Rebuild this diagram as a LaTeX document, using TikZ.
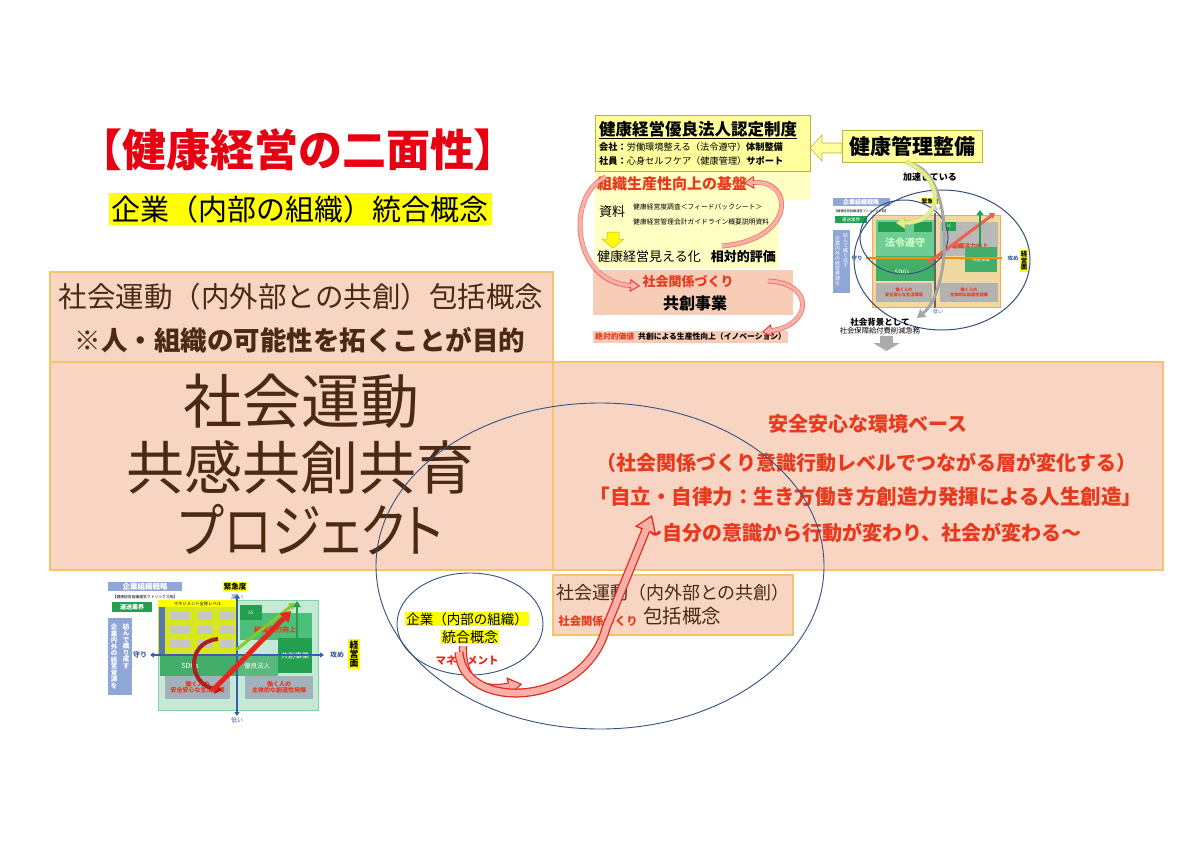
\documentclass[tikz,border=0pt]{standalone}
\usepackage{fontspec}
\usepackage{graphicx}
\setmainfont{Noto Sans CJK JP}
\newfontfamily\jpp[RawFeature=+palt]{Noto Sans CJK JP}
\usetikzlibrary{arrows.meta,shapes.geometric}
\definecolor{peach}{HTML}{F8D5C2}
\definecolor{peach2}{HTML}{F7CDB7}
\definecolor{peachedge}{HTML}{F3C46A}
\definecolor{brownt}{HTML}{4A2A12}
\definecolor{redt}{HTML}{E8381E}
\definecolor{titlered}{HTML}{E60012}
\definecolor{ellblue}{HTML}{34507E}
\definecolor{hiyel}{HTML}{FFFF00}
\definecolor{paleyel}{HTML}{FFFF9E}
\definecolor{paleyel2}{HTML}{FFFFC4}
\definecolor{olive}{HTML}{BFB23A}
\definecolor{pinkf}{HTML}{F8B0A8}
\definecolor{arrred}{HTML}{E8261C}
\definecolor{mblue}{HTML}{8EA6D8}
\definecolor{mgreen}{HTML}{22A050}
\definecolor{lgreen}{HTML}{C4EAD6}
\definecolor{mgreen2}{HTML}{4CBF7A}
\definecolor{mgray}{HTML}{A2B2BC}
\definecolor{axblue}{HTML}{3A5FA8}
\definecolor{tanf}{HTML}{EFD9A0}
\definecolor{darkred}{HTML}{A8201C}
\definecolor{ygreen}{HTML}{E4F08A}
\newcommand\fsz[1]{\fontsize{#1}{#1}\selectfont}
\tikzset{
  t/.style={inner sep=0pt},
  box/.style={draw=peachedge, line width=1.3pt, fill=peach},
  ell/.style={draw=ellblue, line width=0.9pt},
  hl/.style={fill=hiyel, inner xsep=3pt, inner ysep=2pt},
  pkout/.style={draw=arrred, line width=#1},
  pkin/.style={draw=pinkf, line width=#1},
}
\begin{document}
\begin{tikzpicture}[x=1pt,y=-1pt]
\fill[white] (0,0) rectangle (1200,849);
\useasboundingbox (0,0) rectangle (1200,849);

% ---------- title ----------
\node[t, text=titlered, font=\fsz{44}\bfseries] (title) at (298,150) {【健康経営の二面性】};
\node[hl, font=\fsz{29}] (sub) at (300,209) {企業（内部の組織）統合概念};

% ---------- main boxes ----------
\draw[box] (50,272) rectangle (553,362);
\draw[box] (50,362) rectangle (553,570);
\draw[box] (553,362) rectangle (1163,570);
\draw[box] (553,575) rectangle (793,635);

\node[t, text=brownt, font=\fsz{28.5}] (a1) at (301,297) {社会運動（内外部との共創）包括概念};
\node[t, text=brownt, font=\fsz{26.5}\bfseries] (a2) at (300,340) {※人・組織の可能性を拓くことが目的};

\node[t, text=brownt, font=\fsz{59}] (b1) at (301,401) {社会運動};
\node[t, text=brownt, font=\fsz{58}] (b2) at (300,467) {共感共創共育};
\node[t, text=brownt, font=\jpp\fsz{58}] (b3) at (311,530) {\scalebox{0.85}[1]{プロジェクト}};

\node[t, text=redt, font=\fsz{20}\bfseries] (c1) at (868,424) {安全安心な環境ベース};
\node[t, text=redt, font=\fsz{20}\bfseries] (c2) at (866,463) {（社会関係づくり意識行動レベルでつながる層が変化する）};
\node[t, text=redt, font=\fsz{20.5}\bfseries] (c3) at (866,497) {「自立・自律力：生き方働き方創造力発揮による人生創造」};
\node[t, text=redt, font=\fsz{20}\bfseries] (c4) at (862,533) {～自分の意識から行動が変わり、社会が変わる～};

\node[t, text=brownt, font=\fsz{18}] (d1) at (673,593) {社会運動（内外部との共創）};
\node[t, text=redt, font=\fsz{11.3}\bfseries] (d2) at (598,621) {社会関係づくり};
\node[t, text=brownt, font=\fsz{19.5}] (d3) at (682,616) {包括概念};

% ---------- ellipses ----------
\draw[ell] (600,566) ellipse [x radius=224pt, y radius=163pt];
\draw[ell] (470,624) ellipse [x radius=73pt, y radius=51pt];
\node[fill=hiyel, inner xsep=1pt, inner ysep=1pt, font=\fsz{13.5}] (ent) at (467,619) {企業（内部の組織）};
\node[fill=hiyel, inner xsep=1pt, inner ysep=1pt, font=\fsz{14}] (tog) at (470,637) {統合概念};
\node[t, text=arrred, font=\fsz{10.5}\bfseries] (mg) at (467,661) {マネジメント};

% ---------- main pink arrows ----------
\coordinate (m1s) at (463,646);
\coordinate (m1e) at (522,684);
\coordinate (m2s) at (459,652);
\coordinate (m2k) at (606,628);
\coordinate (m2e) at (652,515);
\draw[pkout=8pt, -{Triangle[length=14pt,width=19pt,line width=0pt]}] (m1s) .. controls (462,690) and (490,690) .. (m1e);
\draw[pkin=5.5pt, shorten >=2.2pt, -{Triangle[length=10.5pt,width=14pt,line width=0pt]}] (m1s) .. controls (462,690) and (490,690) .. (m1e);
\draw[pkout=9pt, -{Triangle[length=17pt,width=23pt,line width=0pt]}] (m2s) .. controls (462,712) and (585,708) .. (m2k) -- (m2e);
\draw[pkin=6.5pt, shorten >=2.6pt, -{Triangle[length=13pt,width=18pt,line width=0pt]}] (m2s) .. controls (462,712) and (585,708) .. (m2k) -- (m2e);

% ---------- inset 1 : certification ----------
\fill[paleyel2] (595,170) -- (810,170) -- (810,200) -- (779,200) -- (779,268) -- (595,268) -- cycle;
\draw[draw=olive, fill=paleyel, line width=0.8pt] (595,115) rectangle (810,171);
\node[t, font=\fsz{16.5}\bfseries, anchor=west] (ntitle) at (599,130) {\underline{健康経営優良法人認定制度}};
\node[t, font=\fsz{9.2}, anchor=west] (kaisha) at (599,147) {\textbf{会社：}労働環境整える（法令遵守）\textbf{体制整備}};
\node[t, font=\fsz{9.2}, anchor=west] (shain) at (599,161) {\textbf{社員：}心身セルフケア（健康管理）\textbf{サポート}};
\node[t, text=redt, font=\fsz{15}\bfseries, anchor=west] (kiban) at (597,184) {組織生産性向上の基盤};
\node[t, font=\fsz{13}, anchor=west] (shiryo) at (599,212) {資料};
\node[t, font=\fsz{6.8}, anchor=west] (s1) at (633,207) {健康経営度調査＜フィードバックシート＞};
\node[t, font=\fsz{6.8}, anchor=west] (s2) at (633,222) {健康経営管理会計ガイドライン概要説明資料};
\filldraw[fill=hiyel, draw=olive, line width=0.5pt] (607,232) -- (619,232) -- (619,239) -- (624,239) -- (613,248) -- (602,239) -- (607,239) -- cycle;
\node[t, font=\fsz{13}, anchor=west] (mieru) at (597,257) {健康経営見える化\hspace{10pt}\textbf{相対的評価}};
\fill[peach2] (593,270) rectangle (793,315);
\node[t, text=redt, font=\fsz{13}\bfseries] (shakai) at (688,282) {社会関係づくり};
\node[t, font=\fsz{16}\bfseries] (kyoso) at (695,303) {共創事業};
\node[fill=peach2, anchor=west, font=\fsz{7.8}\bfseries, inner xsep=2pt, inner ysep=2pt] (zettai) at (593,337) {\textcolor{redt}{絶対的価値}\hspace{4pt}共創による生産性向上（イノベーション）};
% inset pink arrows
\draw[pkout=5pt, draw opacity=0.6, -{Triangle[length=10pt,width=13pt,line width=0pt]}] (722,246) .. controls (795,240) and (795,180) .. (744,183);
\draw[pkin=3.4pt, shorten >=1.6pt, -{Triangle[length=7.5pt,width=9.5pt,line width=0pt]}] (722,246) .. controls (795,240) and (795,180) .. (744,183);
\draw[pkout=5pt, draw opacity=0.6, -{Triangle[length=10pt,width=13pt,line width=0pt]}] (606,177) .. controls (565,195) and (572,282) .. (640,286);
\draw[pkin=3.4pt, shorten >=1.6pt, -{Triangle[length=7.5pt,width=9.5pt,line width=0pt]}] (606,177) .. controls (565,195) and (572,282) .. (640,286);
\draw[pkout=5pt, draw opacity=0.6, -{Triangle[length=10pt,width=13pt,line width=0pt]}] (768,281) .. controls (815,283) and (812,325) .. (762,332);
\draw[pkin=3.4pt, shorten >=1.6pt, -{Triangle[length=7.5pt,width=9.5pt,line width=0pt]}] (768,281) .. controls (815,283) and (812,325) .. (762,332);

% ---------- inset 2 : health management ----------
\node[draw=olive, fill=paleyel, line width=0.8pt, minimum width=140pt, minimum height=32pt, inner sep=0pt, font=\fsz{21}\bfseries] (kanri) at (912,146) {健康管理整備};
\filldraw[fill=paleyel, draw=olive, line width=0.6pt] (842,143) -- (822,143) -- (822,135) -- (810,148) -- (822,161) -- (822,153) -- (842,153) -- cycle;
\node[t, font=\fsz{9}\bfseries] (kasoku) at (930,177) {加速している};

% ---------- right matrix ----------
\fill[mblue] (833,198) rectangle (890,206);
\node[t, text=white, font=\fsz{6}\bfseries] (rm1) at (861,202) {企業組織戦略};
\node[t, font=\fsz{3.2}] (rm2) at (861,211) {【健康経営組織運営マトリックス版】};
\fill[mgreen] (835,216) rectangle (867,223);
\node[t, text=white, font=\fsz{4.5}] (rm3) at (851,219.5) {運送業界};
\fill[mblue] (833,230) rectangle (850,293);
\node[t, text=white, font=\fsz{5}, align=center] (rm4) at (837.5,261) {企\\業\\内\\外\\の\\経\\営\\資\\源\\を};
\node[t, text=white, font=\fsz{5}, align=center] (rm5) at (845.5,251) {紡\\ん\\で\\織\\り\\成\\す};
\filldraw[fill=tanf, draw=orange!70, line width=1pt] (872,215) rectangle (1000,307);
\fill[mgreen2!80] (876,220) rectangle (935,256);
\fill[mgreen] (878,222) rectangle (905,232);
\fill[mgreen] (914,222) rectangle (932,232);
\node[t, text=white!80!green, font=\fsz{10}\bfseries] (rm6) at (905,243) {法令遵守};
\fill[gray!55] (940,222) rectangle (998,256);
\fill[mgreen] (942,222) rectangle (956,231);
\node[t, text=white, font=\fsz{3.5}] (rm7) at (949,226.5) {5S};
\node[t, text=redt, font=\fsz{6}\bfseries] (rm8) at (970,246) {組織活力向上};
\fill[mgreen!85] (876,256) rectangle (935,281);
\node[t, text=white, font=\fsz{6}] (rm9) at (902,272) {SDGs};
\fill[mgreen!85] (965,247) rectangle (997,272);
\node[t, text=white, font=\fsz{4.5}] (rm10) at (981,259.5) {共創事業};
\fill[gray!60] (876,283) rectangle (932,302);
\node[t, text=redt, font=\fsz{4.2}\bfseries, align=center] (rm11) at (904,292.5) {働く人の\\安全安心な生活環境};
\fill[gray!60] (940,283) rectangle (998,302);
\node[t, text=redt, font=\fsz{4.2}\bfseries, align=center] (rm12) at (969,292.5) {働く人の\\主体的な創造性発揮};
\draw[orange!90!yellow, line width=1.8pt] (866,258) -- (1002,258);
\draw[gray!80!black, line width=1.3pt] (935,213) -- (935,308);
\draw[redt!80, line width=3pt, -{Triangle[length=5pt,width=7pt,line width=0pt]}] (928,263) -- (995,213);
\draw[mgreen, line width=2pt, -{Triangle[length=5pt,width=7pt,line width=0pt]}] (980,247) -- (980,210);
\node[t, text=axblue, font=\fsz{5.5}\bfseries] (rm13) at (857,258) {守り};
\node[t, text=axblue, font=\fsz{5.5}\bfseries] (rm14) at (1013,258) {攻め};
\node[fill=hiyel, inner sep=0.8pt, font=\fsz{5.5}\bfseries] (rm15) at (930,201) {緊急度};
\node[t, text=axblue, font=\fsz{5}] (rm16) at (935,209) {高い};
\node[t, text=axblue, font=\fsz{5}] (rm17) at (938,312) {低い};
\node[fill=hiyel, inner sep=1pt, font=\fsz{6.5}\bfseries, align=center] (rm18) at (1024,261) {経\\営\\面};
\draw[ell, line width=1pt] (942,260) ellipse [x radius=88pt, y radius=70pt];
\draw[ell, line width=1pt] (904,237) ellipse [x radius=44pt, y radius=37pt];
\draw[gray!70, line width=3pt, -{Triangle[length=8pt,width=10pt,line width=0pt]}] (912,164) .. controls (955,175) and (952,290) .. (917,318);
\draw[olive!60, line width=4.5pt, -{Triangle[length=9pt,width=12pt,line width=0pt]}] (906,162) .. controls (945,178) and (945,222) .. (896,223);
\draw[ygreen, line width=3pt, shorten >=1.2pt, -{Triangle[length=7pt,width=9pt,line width=0pt]}] (906,162) .. controls (945,178) and (945,222) .. (896,223);
\node[t, font=\fsz{8.5}\bfseries] (rm19) at (880,322) {社会背景として};
\node[t, font=\fsz{7.3}] (rm20) at (880,331) {社会保障給付費削減急務};
\fill[gray!65] (880,336) rectangle (893,343);
\fill[gray!65] (873,343) -- (900,343) -- (886.5,351) -- cycle;

% ---------- left matrix ----------
\fill[mblue] (108,582) rectangle (182,591);
\node[t, text=white, font=\fsz{7.5}\bfseries] (lm1) at (145,586.5) {企業組織戦略};
\node[t, font=\fsz{3.8}] (lm2) at (145,597) {【健康経営組織運営マトリックス版】};
\fill[mgreen] (112,602) rectangle (152,612);
\node[t, text=white, font=\fsz{6}\bfseries] (lm3) at (132,607) {運送業界};
\fill[mblue] (108,618) rectangle (132,695);
\node[t, text=white, font=\fsz{6.5}\bfseries, align=center] (lm4) at (114,656.5) {企\\業\\内\\外\\の\\経\\営\\資\\源\\を};
\node[t, text=white, font=\fsz{6.5}\bfseries, align=center] (lm5) at (126,646) {紡\\ん\\で\\織\\り\\成\\す};
\filldraw[fill=lgreen, draw=mgreen2!70, line width=0.8pt] (158,600) rectangle (318,710);
\fill[mgreen2] (240,613) rectangle (312,640);
\fill[mgreen] (240,605) rectangle (262,620);
\node[t, text=white, font=\fsz{4.5}] (lm6) at (251,612.5) {5S};
\node[t, text=redt, font=\fsz{7}\bfseries] (lm7) at (275,630) {組織活力向上};
\fill[yellow!85!green, opacity=0.9] (158,600) rectangle (237,655);
\fill[hiyel] (158,600) rectangle (237,607);
\node[t, font=\fsz{4.3}] (lm8) at (197.5,603.5) {マネジメント全体レベル};
\fill[axblue!85] (159,607) rectangle (165,655);
\foreach \yy in {612,626,640} {
  \fill[gray!45] (170,\yy) rectangle (190,\yy+8);
  \fill[gray!45] (198,\yy) rectangle (212,\yy+8);
  \fill[gray!45] (220,\yy) rectangle (234,\yy+8);
}
\fill[mgreen!85] (160,655) rectangle (237,676);
\fill[mgreen!75] (237,655) rectangle (278,676);
\node[t, text=white, font=\fsz{7}] (lm9) at (190,666) {SDGs};
\node[t, text=white, font=\fsz{6.5}] (lm10) at (257,666) {優良法人};
\fill[mgreen] (278,638) rectangle (312,673);
\node[t, text=white, font=\fsz{7}] (lm11) at (295,656) {共創事業};
\fill[mgray] (165,676) rectangle (230,699);
\node[t, text=redt, font=\fsz{6}\bfseries, align=center] (lm12) at (197.5,687.5) {働く人の\\安全安心な生活環境};
\fill[mgray] (245,676) rectangle (313,699);
\node[t, text=redt, font=\fsz{6}\bfseries, align=center] (lm13) at (279,687.5) {働く人の\\主体的な創造性発揮};
\draw[axblue, line width=1.3pt, {Triangle[length=4pt,width=5pt]}-{Triangle[length=4pt,width=5pt]}] (150,655) -- (324,655);
\draw[axblue, line width=1.3pt, {Triangle[length=4pt,width=5pt]}-{Triangle[length=4pt,width=5pt]}] (237,594) -- (237,716);
\draw[olive!70!green, line width=3pt, -{Triangle[length=6pt,width=8pt,line width=0pt]}] (236,650) -- (295,603);
\draw[mgreen, line width=2.5pt, -{Triangle[length=6pt,width=8pt,line width=0pt]}] (297,640) -- (297,601);
\draw[darkred, line width=4pt, -{Triangle[length=7pt,width=10pt,line width=0pt]}] (218,639) .. controls (185,642) and (188,685) .. (222,690);
\draw[arrred, line width=5pt, -{Triangle[length=10pt,width=13pt,line width=0pt]}] (212,691) -- (291,611);
\node[t, text=axblue, font=\fsz{7}\bfseries] (lm14) at (140,655) {守り};
\node[t, text=axblue, font=\fsz{7}\bfseries] (lm15) at (337,655) {攻め};
\node[fill=hiyel, inner sep=1pt, font=\fsz{7.5}\bfseries] (lm16) at (235,586.5) {緊急度};
\node[t, text=axblue, font=\fsz{6}] (lm17) at (237,597) {高い};
\node[t, text=axblue, font=\fsz{6}] (lm18) at (237,720) {低い};
\node[fill=hiyel, inner sep=1.5pt, font=\fsz{9}\bfseries, align=center] (lm19) at (354,654) {経\\営\\面};
\end{tikzpicture}
\end{document}
